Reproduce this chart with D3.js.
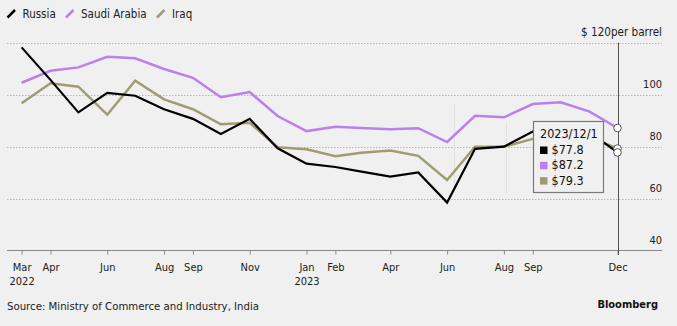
<!DOCTYPE html>
<html>
<head>
<meta charset="utf-8">
<script src="https://cdn.jsdelivr.net/npm/d3@7"></script>
<style>
  html, body { margin: 0; padding: 0; background: #f0f0f0; }
  svg { display: block; font-family: 'DejaVu Sans Condensed', 'DejaVu Sans', sans-serif; font-stretch: condensed; }
</style>
</head>
<body>
<svg id="chart" width="677" height="326"></svg>
<script>
// ---- data ----
const months = [
  "2022-03-01","2022-04-01","2022-05-01","2022-06-01","2022-07-01","2022-08-01",
  "2022-09-01","2022-10-01","2022-11-01","2022-12-01","2023-01-01","2023-02-01",
  "2023-03-01","2023-04-01","2023-05-01","2023-06-01","2023-07-01","2023-08-01",
  "2023-09-01","2023-10-01","2023-11-01","2023-12-01"
];
const russia = [118.2,105.7,93.2,100.7,99.6,94.4,90.7,84.9,90.7,79.4,73.5,72.2,70.4,68.5,70.1,58.5,79.2,80.0,85.8,87.5,85.5,77.8];
const saudiArabia = [104.6,109.2,110.5,114.6,114.0,109.9,106.5,99.0,101.0,91.8,86.0,87.7,87.2,86.7,87.1,81.8,91.9,91.3,96.4,97.1,93.5,87.2];
const iraq = [96.7,104.4,103.1,92.3,105.4,98.2,94.4,88.6,89.2,79.8,79.0,76.3,77.7,78.5,76.5,67.2,80.0,80.0,83.0,84.5,83.5,79.3];
const seriesNames = ["Russia","Saudi Arabia","Iraq"];
const seriesColors = ["#000000","#bb80ec","#a09c72"];
const xTickDates = ["2022-03-01","2022-04-01","2022-06-01","2022-08-01","2022-09-01","2022-11-01",
                    "2023-01-01","2023-02-01","2023-04-01","2023-06-01","2023-08-01","2023-09-01","2023-12-01"];
const yTicks = [40,60,80,100,120];
const tooltipDate = "2023/12/1";
const sourceText = "Source: Ministry of Commerce and Industry, India";

// ---- setup ----
const svg = d3.select("#chart");
const parse = d3.timeParse("%Y-%m-%d");
const dates = months.map(parse);
const x = d3.scaleTime().domain([parse("2022-03-01"), parse("2023-12-01")]).range([21.6, 617.5]);
const y = d3.scaleLinear().domain([40, 120]).range([250.7, 42.7]);
const allSeries = [russia, saudiArabia, iraq];
const left = 7, right = 662;

svg.append("rect").attr("width", 677).attr("height", 326).attr("fill", "#f0f0f0");

// gridlines
svg.append("g").selectAll("line").data(yTicks.filter(d => d > 40)).join("line")
  .attr("x1", left).attr("x2", right)
  .attr("y1", d => Math.round(y(d)) + 0.5).attr("y2", d => Math.round(y(d)) + 0.5)
  .attr("stroke", "#b8b8b8").attr("stroke-width", 1).attr("stroke-dasharray", "1.5,1.5");

// y labels
svg.append("g").selectAll("text").data(yTicks).join("text")
  .attr("x", right).attr("y", d => y(d) - 7)
  .attr("text-anchor", "end").attr("font-size", d => d === 120 ? 11.6 : 11).attr("fill", "#222")
  .text(d => d === 120 ? "$ 120per barrel" : d);

// faint artefact lines
svg.append("line").attr("x1", 454.5).attr("x2", 454.5).attr("y1", 105).attr("y2", 193).attr("stroke", "#e2e2e2");
svg.append("line").attr("x1", 506.5).attr("x2", 506.5).attr("y1", 122).attr("y2", 193).attr("stroke", "#e2e2e2");

// x axis
const xAxis = d3.axisBottom(x)
  .tickValues(xTickDates.map(parse))
  .tickSize(4).tickSizeOuter(0)
  .tickFormat(d => d3.timeFormat("%b")(d));
const gx = svg.append("g").attr("transform", "translate(0,250.5)").call(xAxis);
gx.select(".domain").remove();
gx.insert("line", ":first-child").attr("x1", left).attr("x2", right).attr("y1", 0).attr("y2", 0).attr("stroke", "#888");
gx.selectAll(".tick line").attr("stroke", "#888");
gx.selectAll(".tick text").attr("font-size", 11).attr("fill", "#222").attr("font-family", null).attr("dy", null).attr("y", 20);
gx.selectAll(".tick").each(function(d) {
  if (d.getMonth() === 0 || (d.getFullYear() === 2022 && d.getMonth() === 2)) {
    d3.select(this).append("text").attr("y", 34.5).attr("text-anchor", "middle")
      .attr("font-size", 11).attr("fill", "#222").text(d.getFullYear());
  }
});
gx.attr("font-family", null);

// hover line
const hx = Math.round(x(dates[dates.length - 1])) + 0.5;
svg.append("line").attr("x1", hx).attr("x2", hx).attr("y1", 42.7).attr("y2", 255)
  .attr("stroke", "#555").attr("stroke-width", 1);

// lines
const line = d3.line().x((d, i) => x(dates[i])).y(d => y(d));
const order = [1, 2, 0];
order.forEach(k => {
  svg.append("path").datum(allSeries[k])
    .attr("d", line).attr("fill", "none")
    .attr("stroke", seriesColors[k]).attr("stroke-width", k === 0 ? 2.2 : 2.5)
    .attr("stroke-linejoin", "miter");
});

// hover circles
order.forEach(k => {
  const v = allSeries[k][allSeries[k].length - 1];
  svg.append("circle").attr("cx", x(dates[dates.length - 1])).attr("cy", y(v)).attr("r", 3.8)
    .attr("fill", "#fff").attr("stroke", "#555").attr("stroke-width", 1);
});

// tooltip
const tt = svg.append("g").attr("transform", "translate(533.5,121.5)");
tt.append("rect").attr("width", 70).attr("height", 71).attr("fill", "#f0f0f0")
  .attr("stroke", "#7a7a7a").attr("stroke-width", 1.2);
tt.append("text").attr("x", 6.5).attr("y", 16).attr("font-size", 12.5).attr("fill", "#111").text(tooltipDate);
allSeries.forEach((s, i) => {
  tt.append("rect").attr("x", 6.5).attr("y", 25 + i * 15.3).attr("width", 7.5).attr("height", 7.5)
    .attr("fill", seriesColors[i]);
  tt.append("text").attr("x", 18).attr("y", 32.5 + i * 15.3).attr("font-size", 12.5).attr("fill", "#111")
    .text("$" + s[s.length - 1].toFixed(1));
});

// legend
const legX = [7.5, 66, 157];
seriesNames.forEach((n, i) => {
  svg.append("line").attr("x1", legX[i]).attr("y1", 17.5).attr("x2", legX[i] + 7.5).attr("y2", 10)
    .attr("stroke", seriesColors[i]).attr("stroke-width", 2.5);
  svg.append("text").attr("x", legX[i] + 15).attr("y", 17.5).attr("font-size", 11.5).attr("fill", "#222").text(n);
});

// footer
svg.append("text").attr("x", 7).attr("y", 310).attr("font-size", 11.3).attr("fill", "#222").text(sourceText);
svg.append("text").attr("x", 658).attr("y", 307.5).attr("text-anchor", "end").attr("font-size", 11)
  .attr("font-weight", "bold").attr("fill", "#111").text("Bloomberg");
</script>
</body>
</html>
